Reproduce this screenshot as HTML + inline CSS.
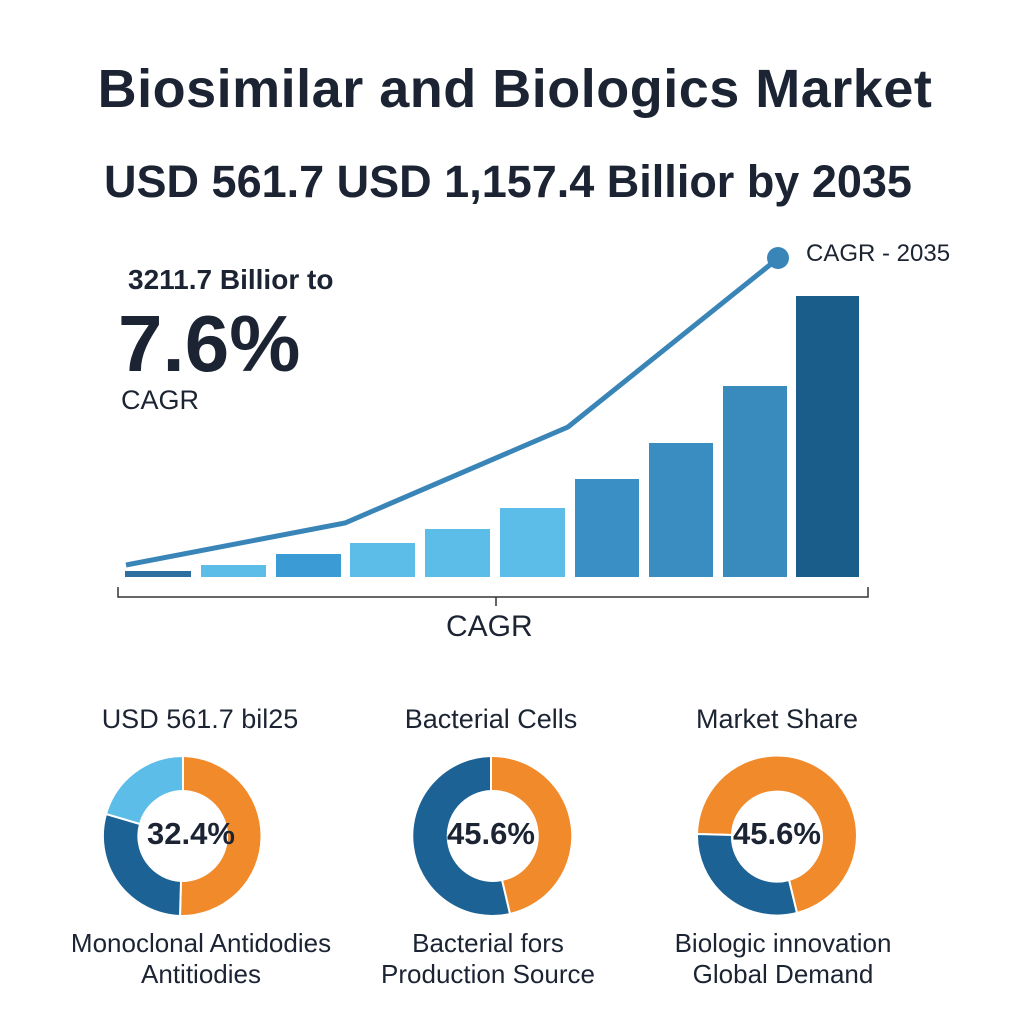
<!DOCTYPE html>
<html><head><style>
body{margin:0;width:1024px;height:1024px;background:#fff;overflow:hidden;font-family:"Liberation Sans",sans-serif;color:#1c2433}
.t{position:absolute;white-space:nowrap}
</style></head><body>
<div class="t" style="left:0;width:1030px;text-align:center;top:58px;font-size:54px;font-weight:bold;letter-spacing:0.5px">Biosimilar and Biologics Market</div>
<div class="t" style="left:0;width:1016px;text-align:center;top:156px;font-size:45px;font-weight:bold">USD 561.7 USD 1,157.4 Billior by 2035</div>
<div class="t" style="left:128px;top:264px;font-size:28px;font-weight:bold">3211.7 Billior to</div>
<div class="t" style="left:118px;top:298px;font-size:80px;font-weight:bold">7.6%</div>
<div class="t" style="left:121px;top:385px;font-size:27px">CAGR</div>
<div class="t" style="left:806px;top:240px;font-size:24px">CAGR - 2035</div>
<div class="t" style="left:446px;top:610px;font-size:30px">CAGR</div>
<svg class="t" style="left:0;top:0" width="1024" height="1024">
<g>
<rect x="125" y="571" width="66" height="6" fill="#2f6fa0"/>
<rect x="201" y="565" width="65" height="12" fill="#5bbde8"/>
<rect x="276" y="554" width="65" height="23" fill="#3a9bd5"/>
<rect x="350" y="543" width="65" height="34" fill="#5bbde8"/>
<rect x="425" y="529" width="65" height="48" fill="#5bbde8"/>
<rect x="500" y="508" width="65" height="69" fill="#5bbde8"/>
<rect x="575" y="479" width="64" height="98" fill="#3a8fc4"/>
<rect x="649" y="443" width="64" height="134" fill="#3a8dc0"/>
<rect x="723" y="386" width="64" height="191" fill="#3a8bbd"/>
<rect x="796" y="296" width="63" height="281" fill="#1a5c8a"/>
</g>
<polyline points="126,565 345,523 568,427 776,260" fill="none" stroke="#3a85b8" stroke-width="5"/>
<circle cx="778" cy="258" r="11" fill="#3a85b8"/>
<path d="M118,587V597H868V587M496,597V606" fill="none" stroke="#333" stroke-width="1.5"/>
<g stroke="#fff" stroke-width="2">
<path d="M183,756A80,80 0 0 1 180,916L181,881A45,45 0 0 0 183,791Z" fill="#f08a2a"/>
<path d="M180,916A80,80 0 0 1 106,814L140,824A45,45 0 0 0 181,881Z" fill="#1c6294"/>
<path d="M106,814A80,80 0 0 1 183,756L183,791A45,45 0 0 0 140,824Z" fill="#5bbde8"/>
<path d="M491,756A80,80 0 0 1 510,914L502,880A45,45 0 0 0 491,791Z" fill="#f08a2a"/>
<path d="M510,914A80,80 0 1 1 491,756L491,791A45,45 0 1 0 502,880Z" fill="#1c6294"/>
<path d="M697,834A80,80 0 1 1 797,913L789,880A45,45 0 1 0 732,835Z" fill="#f08a2a"/>
<path d="M797,913A80,80 0 0 1 697,834L732,835A45,45 0 0 0 789,880Z" fill="#1c6294"/>
</g>
</svg>
<div class="t" style="left:0;width:400px;text-align:center;top:704px;font-size:27px">USD 561.7 bil25</div>
<div class="t" style="left:308px;width:366px;text-align:center;top:704px;font-size:27px">Bacterial Cells</div>
<div class="t" style="left:594px;width:366px;text-align:center;top:704px;font-size:27px">Market Share</div>
<div class="t" style="left:0;width:382px;text-align:center;top:816px;font-size:31px;font-weight:bold">32.4%</div>
<div class="t" style="left:308px;width:366px;text-align:center;top:816px;font-size:31px;font-weight:bold">45.6%</div>
<div class="t" style="left:594px;width:366px;text-align:center;top:816px;font-size:31px;font-weight:bold">45.6%</div>
<div class="t" style="left:0;width:402px;text-align:center;top:928px;font-size:26px;line-height:31px">Monoclonal Antidodies<br>Antitiodies</div>
<div class="t" style="left:305px;width:366px;text-align:center;top:928px;font-size:26px;line-height:31px">Bacterial fors<br>Production Source</div>
<div class="t" style="left:600px;width:366px;text-align:center;top:928px;font-size:26px;line-height:31px">Biologic innovation<br>Global Demand</div>
</body></html>
